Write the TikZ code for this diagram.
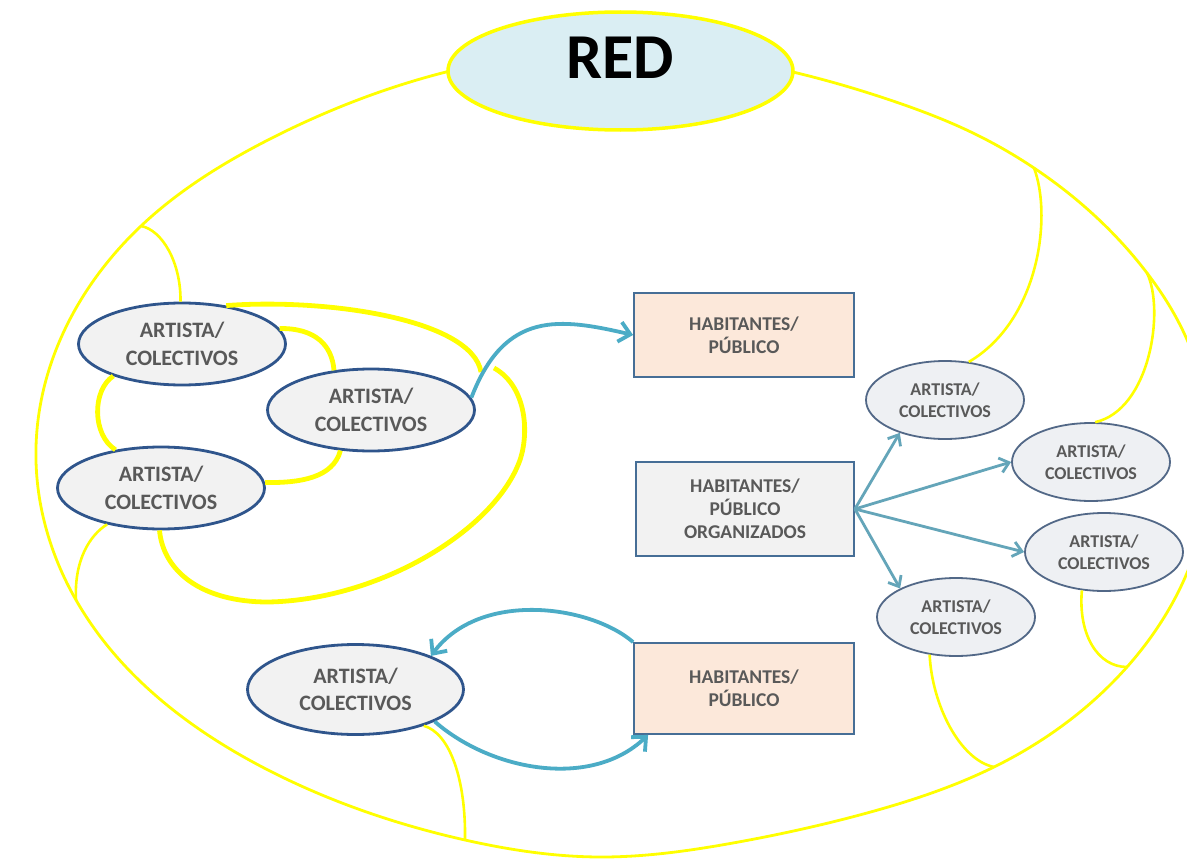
\documentclass[tikz,border=0pt]{standalone}
\usepackage{fontspec}
\setmainfont{Carlito}
\usetikzlibrary{shapes.geometric,arrows.meta,hobby}
\definecolor{ylw}{RGB}{255,255,0}
\definecolor{eblue}{RGB}{47,85,140}
\definecolor{efill}{RGB}{242,242,242}
\definecolor{rblue}{RGB}{82,104,135}
\definecolor{rfill}{RGB}{238,240,243}
\definecolor{tgray}{RGB}{89,89,89}
\definecolor{bblue}{RGB}{70,110,150}
\definecolor{peach}{RGB}{252,232,218}
\definecolor{ablue}{RGB}{75,172,198}
\definecolor{rarr}{RGB}{100,165,185}
\definecolor{redfill}{RGB}{218,238,243}
\begin{document}
\begin{tikzpicture}[x=1pt,y=-1pt,
  artL/.style={ellipse, draw=eblue, line width=2.8pt, fill=efill, text=tgray,
    font=\fontsize{22}{27.5}\selectfont\bfseries, align=center, inner sep=0pt,
    minimum width=207pt, minimum height=82pt},
  artR/.style={ellipse, draw=rblue, line width=1.8pt, fill=rfill, text=tgray,
    font=\fontsize{18}{22.5}\selectfont\bfseries, align=center, inner sep=0pt,
    minimum width=158pt, minimum height=78pt},
  boxP/.style={rectangle, draw=bblue, line width=1.8pt, fill=peach, text=tgray,
    font=\fontsize{19.5}{23}\selectfont\bfseries, align=center, inner sep=0pt},
  redE/.style={ellipse, draw=ylw, line width=3.5pt, fill=redfill, text=black,
    font=\fontsize{64}{64}\selectfont\bfseries, inner sep=0pt,
    minimum width=345pt, minimum height=118pt, text height=40pt, text depth=26pt},
  ylBig/.style={draw=ylw, line width=2.8pt},
  ylThick/.style={draw=ylw, line width=4.8pt},
  ylThin/.style={draw=ylw, line width=2.6pt},
  arrL/.style={draw=ablue, line width=3.8pt, -{Straight Barb[length=11pt,width=20pt]}},
  arrR/.style={draw=rarr, line width=2.8pt, -{Straight Barb[length=9pt,width=15pt]}}
]
\useasboundingbox (0,0) rectangle (1187,859);
\fill[white] (0,0) rectangle (1187,859);

% junctions on the big network curve
\coordinate (J1) at (141,226);
\coordinate (J2) at (76,600);
\coordinate (J3) at (465,840);
\coordinate (J4) at (994,767);
\coordinate (J5) at (1127,667);
\coordinate (J6) at (1147,273);
\coordinate (J7) at (1034,168);

\draw[ylBig, use Hobby shortcut, closed=true]
  (446,72) .. (620,50) .. (797,73) .. (890,100) .. (973,133) .. (J7) .. (J6)
  .. (1184,333) .. (1187,573) .. (J5) .. (J4) .. (867,813) .. (733,843)
  .. (600,857) .. (J3) .. (268,770) .. (J2) .. (36,447) .. (J1) .. (268,140);

\node[redE] (RED) at (620.5,71) {RED};

% nodes
\node[artL] (A1) at (182,344) {ARTISTA/\\COLECTIVOS};
\node[artL] (A2) at (371,410) {ARTISTA/\\COLECTIVOS};
\node[artL] (A3) at (161,488) {ARTISTA/\\COLECTIVOS};
\node[artL, minimum width=216pt, minimum height=90pt] (B) at (355.5,689.5) {ARTISTA/\\COLECTIVOS};

\node[artR] (R1) at (945,400) {ARTISTA/\\COLECTIVOS};
\node[artR] (R2) at (1091,462) {ARTISTA/\\COLECTIVOS};
\node[artR] (R3) at (1104,552) {ARTISTA/\\COLECTIVOS};
\node[artR] (R4) at (956,617) {ARTISTA/\\COLECTIVOS};

\node[boxP, minimum width=220pt, minimum height=84pt] (B1) at (744,335) {HABITANTES/\\PÚBLICO};
\node[boxP, fill=efill, minimum width=218pt, minimum height=94pt] (B2) at (745,509) {HABITANTES/\\PÚBLICO\\ORGANIZADOS};
\node[boxP, minimum width=220pt, minimum height=91pt] (B3) at (744,688.5) {HABITANTES/\\PÚBLICO};

% thin yellow links to the network
\draw[ylThin] (J1) .. controls (162,230) and (181,262) .. (A1.92);
\draw[ylThin] (A3.214) .. controls (90,535) and (74,560) .. (J2);
\draw[ylThin] (B.-28) .. controls (450,733) and (466,780) .. (J3);
\draw[ylThin] (R4.235) .. controls (932,705) and (960,760) .. (J4);
\draw[ylThin] (R3.240) .. controls (1078,635) and (1098,667) .. (J5);
\draw[ylThin] (J6) .. controls (1165,310) and (1150,410) .. (R2.84);
\draw[ylThin] (J7) .. controls (1052,215) and (1040,320) .. (R1.58);

% thick yellow links of the left cluster
\coordinate (Q1) at (481,372);
\coordinate (Q2) at (494,368);
\draw[ylThick] (A1.9) .. controls (315,328) and (332,345) .. (A2.133);
\draw[ylThick] (A1.205) .. controls (92,390) and (92,435) .. (A3.140);
\draw[ylThick] (A2.233) .. controls (333,478) and (300,483) .. (A3.3);
\draw[ylThick] (A1.41) .. controls (330,298) and (472,320) .. (Q1);
\draw[ylThick] (Q2) .. controls (525,385) and (530,430) .. (520,460)
  .. controls (495,530) and (380,600) .. (268,602)
  .. controls (200,602) and (163,570) .. (A3.268);

% blue arrows
\draw[arrL] (A2.7) .. controls (505,310) and (560,318) .. (B1.west);
\draw[arrL] (B3.north west) .. controls (590,605) and (480,590) .. (B.24);
\draw[arrL] (B.-22) .. controls (490,770) and (590,790) .. ([xshift=15pt]B3.south west);

\draw[arrR] (B2.east) -- (R1.216);
\draw[arrR] (B2.east) -- (R2.west);
\draw[arrR] (B2.east) -- (R3.west);
\draw[arrR] (B2.east) -- (R4.153);
\end{tikzpicture}
\end{document}
